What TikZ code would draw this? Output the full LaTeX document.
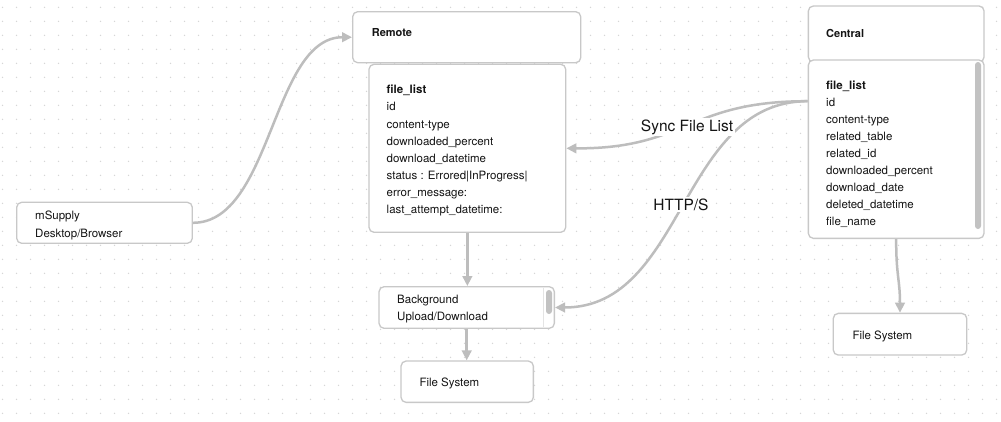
\documentclass[tikz,border=0pt]{standalone}
\usepackage{fontspec}
\setmainfont{TeX Gyre Heros}
\usetikzlibrary{arrows.meta}
\definecolor{dotc}{HTML}{D6D6D6}
\definecolor{boxc}{HTML}{C8C8C8}
\definecolor{edgec}{HTML}{BDBDBD}
\definecolor{txtc}{HTML}{141414}
\definecolor{thumbc}{HTML}{C2C2C2}
\definecolor{trackc}{HTML}{E4E4E4}
\tikzset{
  box/.style={draw=boxc, line width=1.3pt, rounded corners=5pt, fill=white, inner sep=0pt, rectangle},
  txt/.style={text=txtc, font=\fontsize{11.5}{13}\selectfont, inner sep=0pt, anchor=base west},
  boldtxt/.style={txt, font=\fontsize{11.5}{13}\selectfont\bfseries},
  hdr/.style={txt, font=\fontsize{11}{13}\selectfont\bfseries},
  lbl/.style={text=txtc, font=\fontsize{15.5}{18}\selectfont, fill=white, inner sep=1.5pt, anchor=base},
  edge/.style={draw=edgec, line width=2.5pt, -{Triangle[length=10pt,width=9.5pt]}},
  thumb/.style={fill=thumbc, rounded corners=3pt, inner sep=0pt, minimum width=6pt},
}
\begin{document}
\begin{tikzpicture}[x=1pt,y=-1pt]
\useasboundingbox (0,0) rectangle (1001,421);
\fill[white] (0,0) rectangle (1001,421);
% dot grid
\foreach \i in {0,...,71} {
  \foreach \j in {0,...,29} {
    \fill[dotc] ({2.5+14*\i},{7.3+14*\j}) circle (0.75pt);
  }
}
% boxes
\node[box, minimum width=228pt, minimum height=51pt] (remote) at (466.7,37.2) {};
\node[box, minimum width=196.7pt, minimum height=168pt] (rlist) at (467.35,148.3) {};
\node[box, minimum width=175.7pt, minimum height=56pt] (central) at (896.2,34) {};
\node[box, minimum width=175.7pt, minimum height=178.3pt] (clist) at (896.2,149.2) {};
\node[box, minimum width=175.6pt, minimum height=41pt] (msupply) at (104.5,222.8) {};
\node[box, minimum width=175.3pt, minimum height=41.6pt] (bg) at (466.7,307.5) {};
\node[box, minimum width=132.3pt, minimum height=41.3pt] (fsl) at (467.2,381.7) {};
\node[box, minimum width=133.4pt, minimum height=41.7pt] (fsr) at (900,334.2) {};
% scrollbars
\draw[trackc, line width=0.8pt] (543.5,287.6) -- (543.5,327.4);
\node[thumb, minimum height=24pt] (bgthumb) at (549,302) {};
\node[thumb, minimum height=167pt] (cthumb) at (978,145.5) {};
% texts
\node[hdr] (remotet) at (371.7,36.8) {Remote};
\node[hdr] (centralt) at (826,37.8) {Central};
\node[boldtxt] (r1) at (386.5,93.8) {file\_list};
\foreach \t [count=\i from 2] in {id, content-type, downloaded\_percent, download\_datetime, status : Errored|InProgress|, error\_message:, last\_attempt\_datetime:}
  \node[txt] (r\i) at (386.5,{93.8+(\i-1)*17.1}) {\t};
\node[boldtxt] (c1) at (826,89.5) {file\_list};
\foreach \t [count=\i from 2] in {id, content-type, related\_table, related\_id, downloaded\_percent, download\_date, deleted\_datetime, file\_name}
  \node[txt] (c\i) at (826,{89.5+(\i-1)*16.95}) {\t};
\node[txt] (m1) at (35,219.5) {mSupply};
\node[txt] (m2) at (35,237) {Desktop/Browser};
\node[txt] (b1) at (397,303.8) {Background};
\node[txt] (b2) at (397,320.2) {Upload/Download};
\node[txt] (fslt) at (419.3,386.2) {File System};
\node[txt] (fsrt) at (852.3,339.5) {File System};
% edges
\draw[edge] (msupply.east) .. controls (272,222.8) and (272,37.2) .. (remote.west);
\draw[edge] ([yshift=48pt]clist.west) .. controls (687,101) and (687,149) .. (rlist.east);
\draw[edge] ([yshift=48pt]clist.west) .. controls (680,101) and (685,307.5) .. (bg.east);
\draw[edge] (rlist.south) -- (rlist.south |- bg.north);
\draw[edge] (bg.south) -- (bg.south |- fsl.north);
\draw[edge] (clist.south) .. controls (896,275) and (900,280) .. (fsr.north);
% labels
\node[lbl] (sync) at (687,131) {Sync File List};
\node[lbl] (http) at (681,210.3) {HTTP/S};
\end{tikzpicture}
\end{document}
